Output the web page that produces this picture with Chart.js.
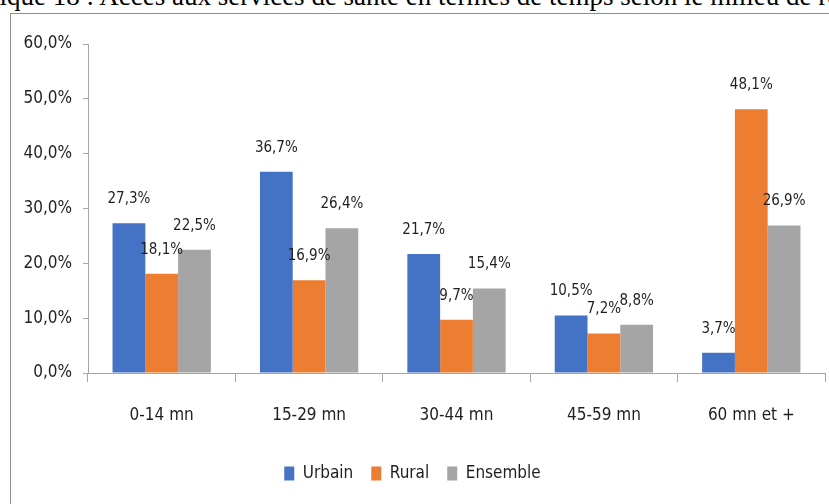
<!DOCTYPE html>
<html>
<head>
<meta charset="utf-8">
<script src="https://cdn.jsdelivr.net/npm/chart.js@4.4.0/dist/chart.umd.min.js"></script>
<style>
  html, body { margin: 0; padding: 0; background: #fff; overflow: hidden; }
  body { width: 829px; height: 504px; position: relative; }
  #title {
    position: absolute; top: -17px; left: -60px;
    font: 27px "Liberation Serif", "Times New Roman", serif;
    line-height: 27px; color: #000; white-space: nowrap;
  }
  #frame {
    position: absolute; left: 10px; top: 13px; width: 900px; height: 600px;
    border: 1px solid #8c8c8c; box-sizing: border-box;
  }
  #wrap { position: absolute; left: 0; top: 0; width: 829px; height: 504px; }
</style>
</head>
<body>
<div id="title"><span id="hidden">Graph</span>ique 18 : Accès aux services de santé en termes de temps selon le milieu de résidence</div>
<div id="frame"></div>
<div id="wrap"><canvas id="chart" width="829" height="504"></canvas></div>
<script>
const CATEGORIES = ['0-14 mn', '15-29 mn', '30-44 mn', '45-59 mn', '60 mn et +'];
const URBAIN     = [27.3, 36.7, 21.7, 10.5, 3.7];
const RURAL      = [18.1, 16.9, 9.7, 7.2, 48.1];
const ENSEMBLE   = [22.5, 26.4, 15.4, 8.8, 26.9];
const Y_TICKS    = [0, 10, 20, 30, 40, 50, 60];

const FONT = '"DejaVu Sans Condensed", "Liberation Sans Narrow", sans-serif';
const TEXT = '#1f1f1f';
const AXIS = '#a6a6a6';

// shift the clipped caption so it starts mid-word like the scan
const hid = document.getElementById('hidden');
document.getElementById('title').style.left = (-hid.offsetWidth - 1) + 'px';

function fmtPct(v) {
  return v.toFixed(1).replace('.', ',') + '%';
}

// value labels drawn above each bar
const barLabels = {
  id: 'barLabels',
  afterDatasetsDraw(chart) {
    const ctx = chart.ctx;
    ctx.save();
    ctx.font = '15px ' + FONT;
    ctx.fillStyle = TEXT;
    ctx.textAlign = 'center';
    ctx.textBaseline = 'middle';
    chart.data.datasets.forEach((ds, i) => {
      chart.getDatasetMeta(i).data.forEach((bar, j) => {
        ctx.fillText(fmtPct(ds.data[j]), bar.x, bar.y - 24);
      });
    });
    ctx.restore();
  }
};

new Chart(document.getElementById('chart'), {
  type: 'bar',
  data: {
    labels: CATEGORIES,
    datasets: [
      { label: 'Urbain',   data: URBAIN,   backgroundColor: '#4472c4' },
      { label: 'Rural',    data: RURAL,    backgroundColor: '#ed7d31' },
      { label: 'Ensemble', data: ENSEMBLE, backgroundColor: '#a5a5a5' }
    ]
  },
  options: {
    responsive: false,
    animation: false,
    datasets: { bar: { categoryPercentage: 0.667, barPercentage: 1.0 } },
    layout: { padding: { top: 44, right: 4, bottom: 12, left: 0 } },
    plugins: {
      legend: {
        position: 'bottom',
        labels: {
          font: { family: FONT, size: 17 },
          color: TEXT,
          boxWidth: 10,
          boxHeight: 14,
          padding: 18
        }
      },
      tooltip: { enabled: false }
    },
    scales: {
      x: {
        grid: { drawOnChartArea: false, drawTicks: true, tickLength: 9, color: AXIS, offset: true },
        border: { display: true, color: AXIS, width: 1 },
        ticks: { font: { family: FONT, size: 17 }, color: TEXT, padding: 23, maxRotation: 0 },
        afterFit: s => { s.height = 74; }
      },
      y: {
        min: 0,
        max: 60,
        afterBuildTicks: s => { s.ticks = Y_TICKS.map(v => ({ value: v })); },
        grid: { drawOnChartArea: false, drawTicks: true, tickLength: 5, color: AXIS },
        border: { display: true, color: AXIS, width: 1 },
        ticks: {
          font: { family: FONT, size: 17 },
          color: TEXT,
          padding: 11,
          callback: v => fmtPct(v)
        },
        afterFit: s => { s.width = 88; }
      }
    }
  },
  plugins: [barLabels]
});
</script>
</body>
</html>
